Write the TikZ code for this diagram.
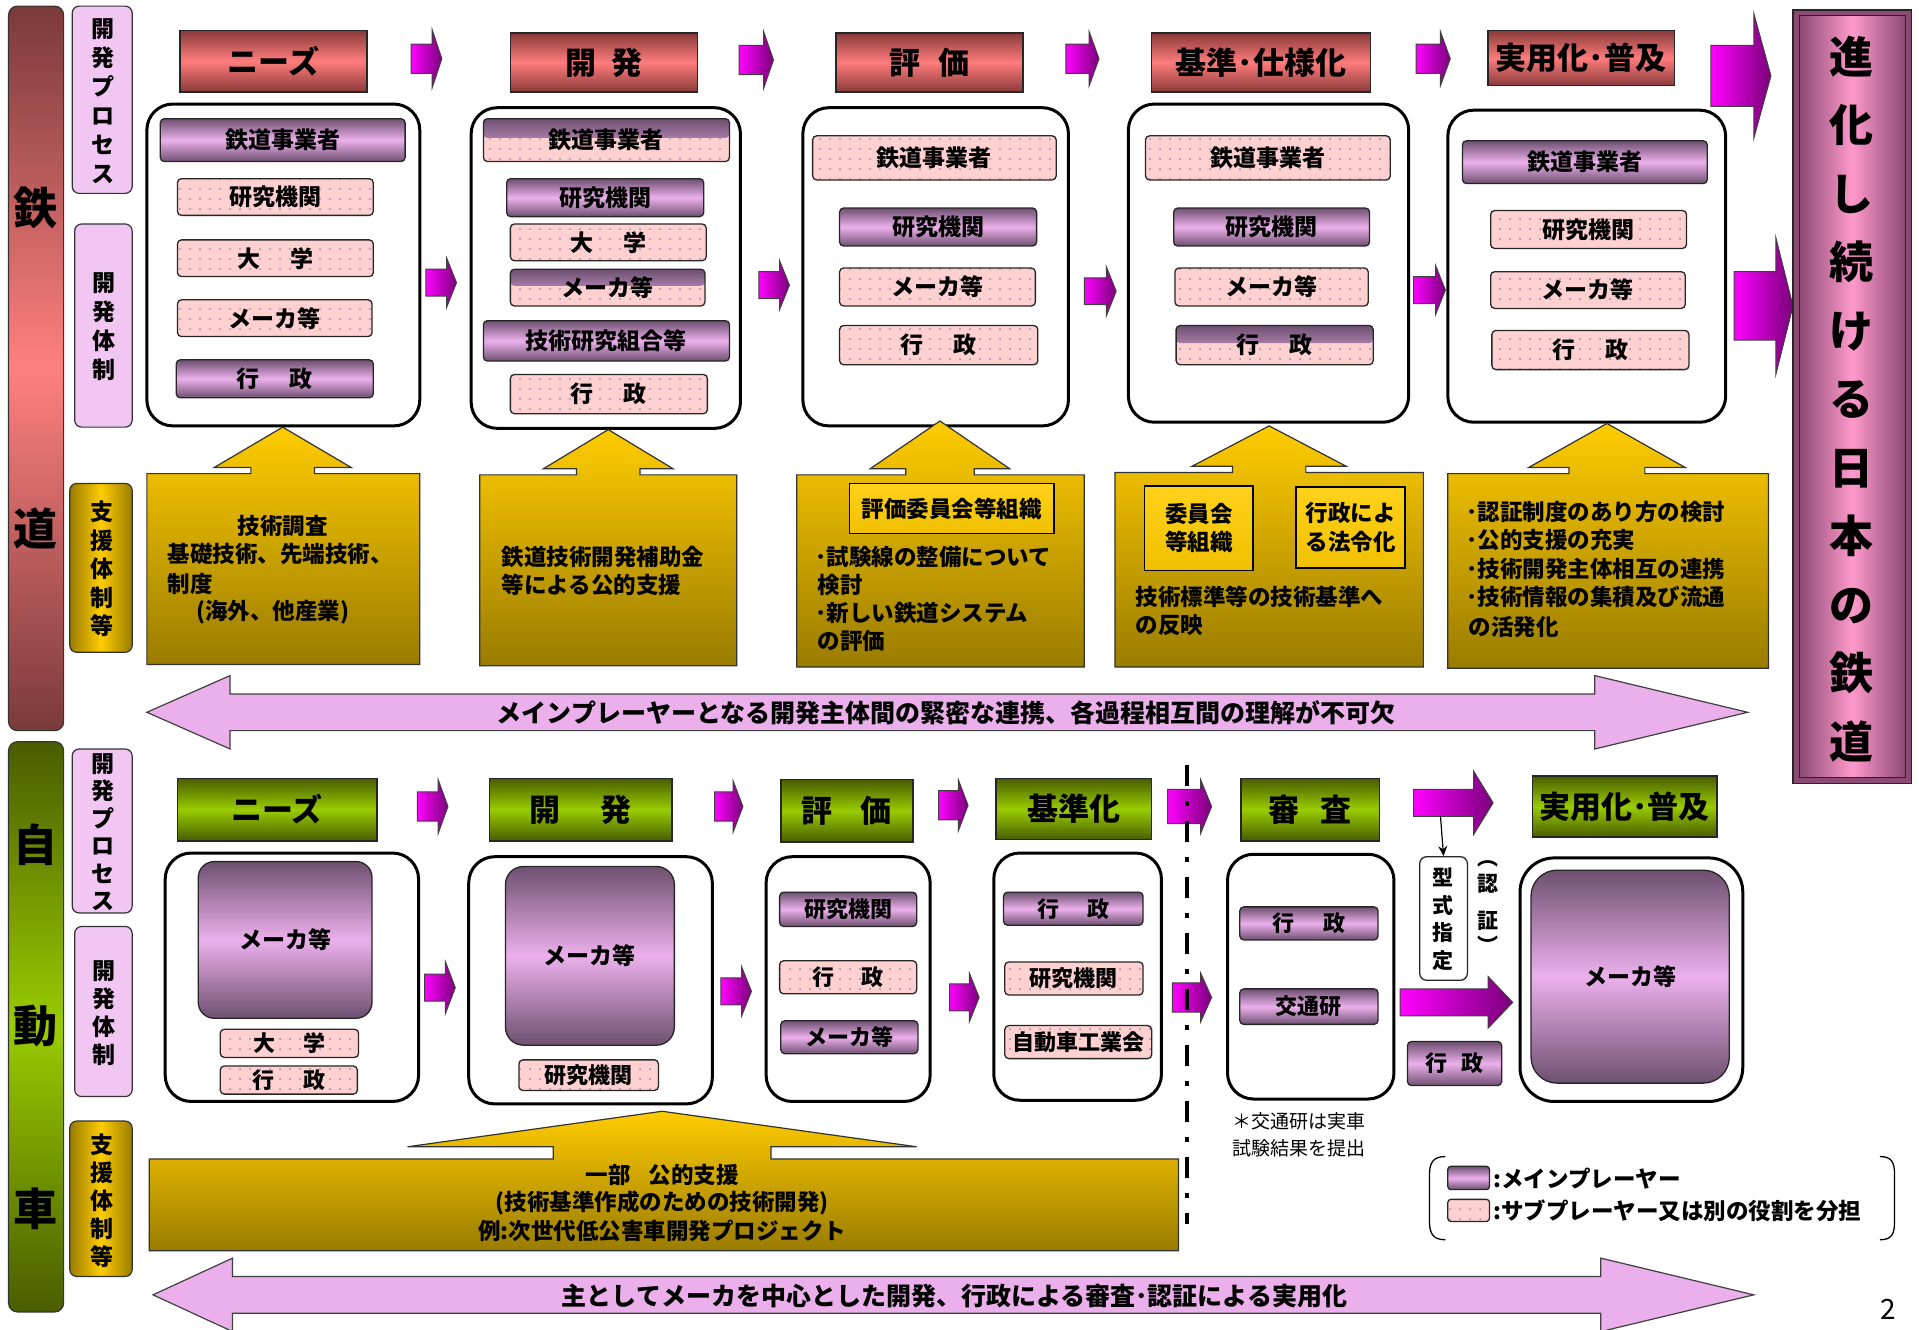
\documentclass[tikz,border=0pt]{standalone}
\usepackage{fontspec}
\setmainfont{Noto Sans CJK JP}[BoldFont={Noto Sans CJK JP Black}]
\usetikzlibrary{calc,patterns.meta,arrows.meta}
\definecolor{mdark}{HTML}{6E5070}
\definecolor{mlight}{HTML}{ECB0EC}
\definecolor{subpink}{HTML}{FFD0D0}
\definecolor{dotc}{HTML}{8080B0}
\definecolor{rdark}{HTML}{8A3A3A}
\definecolor{rlight}{HTML}{FF7C7C}
\definecolor{gdark}{HTML}{4A5C00}
\definecolor{glight}{HTML}{99CC00}
\definecolor{ytop}{HTML}{FFCC00}
\definecolor{ybot}{HTML}{9A7C00}
\definecolor{magl}{HTML}{FF00FF}
\definecolor{magr}{HTML}{7A007A}
\definecolor{dpink}{HTML}{EBB0EB}
\definecolor{lpink}{HTML}{F2C6F2}
\definecolor{bdark}{HTML}{7A3A3A}
\definecolor{blight}{HTML}{FF8080}
\definecolor{shdark}{HTML}{8A4A72}
\definecolor{shlight}{HTML}{FF99CC}
\definecolor{iyel}{HTML}{FFD21A}
\newcommand\fT{\fontsize{31}{36}\selectfont\bfseries}
\newcommand\fI{\fontsize{23}{28}\selectfont\bfseries}
\newcommand\fB{\fontsize{22}{26}\selectfont\bfseries}
\newcommand\fS{\fontsize{22.5}{28.5}\selectfont\bfseries}
\newcommand\fA{\fontsize{25}{30}\selectfont\bfseries}
\newcommand\fN{\fontsize{19}{27}\selectfont\mdseries}
\newcommand\bx[7]{\node[#2,minimum width={(#5-#3)*1.2238pt},minimum height={(#6-#4)*1.2238pt},inner sep=0pt] (#1) at ({(#3+#5)/2},{(#4+#6)/2}) {#7};}
\newcommand\marr[6]{\shade[left color=magl,right color=magr,draw=black!75,line width=1pt] (#1,{#3-#4}) -- ({#2-#6},{#3-#4}) -- ({#2-#6},{#3-#5}) -- (#2,#3) -- ({#2-#6},{#3+#5}) -- ({#2-#6},{#3+#4}) -- (#1,{#3+#4}) -- cycle;}
\newcommand\ycall[9]{\shade[top color=ytop,bottom color=ybot,draw=black!80,line width=1.2pt] (#1,#3) -- ({#5-#8},#3) -- ({#5-#8},{#3-#9}) -- ({#5-#7},{#3-#9}) -- (#5,#6) -- ({#5+#7},{#3-#9}) -- ({#5+#8},{#3-#9}) -- ({#5+#8},#3) -- (#2,#3) -- (#2,#4) -- (#1,#4) -- cycle;}
\newcommand\dbl[7]{\filldraw[fill=dpink,draw=black!75,line width=1.2pt] (#1,#5) -- (#2,{#5-#7}) -- (#2,{#5-#6}) -- (#3,{#5-#6}) -- (#3,{#5-#7}) -- (#4,#5) -- (#3,{#5+#7}) -- (#3,{#5+#6}) -- (#2,{#5+#6}) -- (#2,{#5+#7}) -- cycle;}
\tikzset{
  wbox/.style={draw=black,line width=3pt,rounded corners=26pt,fill=white},
  itembase/.style={draw=black!85,line width=1.3pt,rounded corners=4pt,font=\fI,text=black},
  mainp/.style={itembase,top color=mdark,bottom color=mdark,middle color=mlight},
  subp/.style={itembase,preaction={fill=subpink},pattern={Dots[distance=10pt,radius=0.9pt]},pattern color=dotc},
  mixp/.style={subp,path picture={\shade[top color=mdark,bottom color=mlight] (path picture bounding box.north west) rectangle ($(path picture bounding box.north east)!0.45!(path picture bounding box.south east)$);}},
  ttlr/.style={draw=black!85,line width=1.5pt,top color=rdark,bottom color=rdark,middle color=rlight,font=\fT},
  ttlg/.style={draw=black!85,line width=1.5pt,top color=gdark,bottom color=gdark,middle color=glight,font=\fT},
  lbl/.style={draw=black!80,line width=1.2pt,rounded corners=7pt,fill=lpink},
  ylbl/.style={draw=black!80,line width=1.2pt,rounded corners=7pt,left color=ybot,right color=ybot,middle color=ytop},
  vtxt/.style={align=center,inner sep=0pt,font=\fontsize{23}{#1}\selectfont\bfseries},
  ibox/.style={draw=black,line width=1.5pt,top color=iyel,bottom color=ytop!85!ybot,font=\fS,align=center},
  stxt/.style={inner sep=0pt,font=\fS},
}
\begin{document}
\begin{tikzpicture}[x=1.2238pt,y=-1.2238pt]
\useasboundingbox (0,0) rectangle (1568,1086);
% ---------------- left bars ----------------
\bx{barR}{draw=black!80,line width=1.2pt,rounded corners=9pt,top color=bdark,bottom color=bdark,middle color=blight}{7}{5}{52}{597}{}
\node[font=\fontsize{44}{44}\selectfont\bfseries] (barR1) at (29,170) {鉄};
\node[font=\fontsize{44}{44}\selectfont\bfseries] (barR2) at (29,432) {道};
\bx{barG}{draw=black!80,line width=1.2pt,rounded corners=9pt,top color=gdark,bottom color=gdark,middle color=glight}{7}{606}{52}{1072}{}
\node[font=\fontsize{44}{44}\selectfont\bfseries] (barG1) at (29,690) {自};
\node[font=\fontsize{44}{44}\selectfont\bfseries] (barG2) at (29,838) {動};
\node[font=\fontsize{44}{44}\selectfont\bfseries] (barG3) at (29,988) {車};
% labels
\bx{l1}{lbl}{59}{5}{108}{158}{}
\node[vtxt=29pt] (l1t) at (84,83) {開\\発\\プ\\ロ\\セ\\ス};
\bx{l2}{lbl}{61}{183}{108}{349}{}
\node[vtxt=29pt] (l2t) at (85,267) {開\\発\\体\\制};
\bx{l3}{ylbl}{57}{395}{108}{533}{}
\node[vtxt=28.5pt] (l3t) at (83,465) {支\\援\\体\\制\\等};
\bx{l4}{lbl}{59}{612}{108}{746}{}
\node[vtxt=27.5pt] (l4t) at (84,680) {開\\発\\プ\\ロ\\セ\\ス};
\bx{l5}{lbl}{61}{757}{108}{896}{}
\node[vtxt=28pt] (l5t) at (85,828) {開\\発\\体\\制};
\bx{l6}{ylbl}{57}{916}{108}{1043}{}
\node[vtxt=28pt] (l6t) at (83,981) {支\\援\\体\\制\\等};
% ---------------- top titles ----------------
\bx{t1}{ttlr}{147}{25}{300}{75}{ニーズ}
\bx{t2}{ttlr}{417}{27}{570}{75}{開\hspace{0.5em}発}
\bx{t3}{ttlr}{683}{27}{836}{75}{評\hspace{0.6em}価}
\bx{t4}{ttlr}{941}{27}{1120}{75}{基準･仕様化}
\bx{t5}{ttlr}{1216}{25}{1368}{70}{実用化･普及}
\marr{336}{361}{48}{12}{24}{8}
\marr{604}{632}{49}{12}{23}{8}
\marr{871}{898}{48}{12}{22}{8}
\marr{1157}{1185}{48}{12}{22}{8}
\marr{1398}{1447}{62}{25}{51}{14}
\marr{1417}{1465}{250}{28}{56}{14}
% evolution box
\bx{evo}{draw=black!85,line width=1.5pt,fill=shdark}{1465}{8}{1562}{640}{}
\bx{evoin}{draw=black!85,line width=1pt,left color=shdark,right color=shdark,middle color=shlight}{1470}{13}{1557}{635}{}
\node[align=center,inner sep=0pt,font=\fontsize{44}{68.5}\selectfont\bfseries] (evot) at (1513,326) {進\\化\\し\\続\\け\\る\\日\\本\\の\\鉄\\道};
% ---------------- top boxes ----------------
\bx{W1}{wbox}{120}{85}{343}{348}{}
\bx{W2}{wbox}{385}{88}{605}{350}{}
\bx{W3}{wbox}{656}{88}{873}{348}{}
\bx{W4}{wbox}{922}{85}{1151}{345}{}
\bx{W5}{wbox}{1183}{90}{1410}{345}{}
\bx{a1}{mainp}{131}{97}{331}{132}{鉄道事業者}
\bx{a2}{subp}{145}{146}{305}{176}{研究機関}
\bx{a3}{subp}{145}{196}{305}{226}{大\hspace{1.3em}学}
\bx{a4}{subp}{145}{245}{304}{275}{メーカ等}
\bx{a5}{mainp}{144}{294}{305}{325}{行\hspace{1.3em}政}
\bx{b1}{mixp}{395}{97}{596}{132}{鉄道事業者}
\bx{b2}{mainp}{414}{146}{575}{177}{研究機関}
\bx{b3}{subp}{417}{183}{577}{213}{大\hspace{1.3em}学}
\bx{b4}{mixp}{417}{220}{576}{250}{メーカ等}
\bx{b5}{mainp}{395}{262}{596}{295}{技術研究組合等}
\bx{b6}{subp}{417}{306}{578}{338}{行\hspace{1.3em}政}
\bx{c1}{subp}{664}{111}{863}{147}{鉄道事業者}
\bx{c2}{mainp}{686}{170}{847}{201}{研究機関}
\bx{c3}{subp}{686}{219}{846}{250}{メーカ等}
\bx{c4}{subp}{686}{266}{848}{298}{行\hspace{1.3em}政}
\bx{d1}{subp}{936}{111}{1136}{147}{鉄道事業者}
\bx{d2}{mainp}{959}{170}{1119}{201}{研究機関}
\bx{d3}{subp}{960}{219}{1118}{250}{メーカ等}
\bx{d4}{mixp}{961}{266}{1122}{298}{行\hspace{1.3em}政}
\bx{e1}{mainp}{1195}{115}{1395}{150}{鉄道事業者}
\bx{e2}{subp}{1218}{172}{1378}{203}{研究機関}
\bx{e3}{subp}{1218}{222}{1377}{252}{メーカ等}
\bx{e4}{subp}{1219}{270}{1380}{302}{行\hspace{1.3em}政}
\marr{348}{373}{231}{11}{20}{8}
\marr{620}{645}{233}{11}{20}{8}
\marr{886}{912}{238}{11}{20}{8}
\marr{1155}{1181}{237}{11}{20}{8}
% ---------------- support callouts (rail) ----------------
\ycall{120}{343}{387}{543}{231}{349}{56}{26}{5}
\ycall{392}{602}{388}{544}{497}{351}{53}{26}{5}
\ycall{651}{886}{388}{545}{768}{344}{57}{28}{5}
\ycall{911}{1163}{386}{545}{1037}{348}{63}{30}{5}
\ycall{1183}{1445}{387}{546}{1313}{346}{64}{31}{5}
\node[stxt] (s1a) at (231,430) {技術調査};
\node[stxt,anchor=west] (s1b) at (137,453) {基礎技術、先端技術、};
\node[stxt,anchor=west] (s1c) at (137,477) {制度};
\node[stxt,anchor=west] (s1d) at (160,500) {(海外、他産業)};
\node[stxt,anchor=west] (s2a) at (410,455) {鉄道技術開発補助金};
\node[stxt,anchor=west] (s2b) at (410,478) {等による公的支援};
\bx{s3box}{ibox}{694}{395}{861}{436}{評価委員会等組織}
\node[stxt,anchor=west] (s3a) at (666,455) {･試験線の整備について};
\node[stxt,anchor=west] (s3b) at (668,478) {検討};
\node[stxt,anchor=west] (s3c) at (666,501) {･新しい鉄道システム};
\node[stxt,anchor=west] (s3d) at (668,524) {の評価};
\bx{s4box1}{ibox}{935}{397}{1024}{466}{委員会\\等組織}
\bx{s4box2}{ibox}{1059}{398}{1148}{464}{行政によ\\る法令化}
\node[stxt,anchor=west] (s4a) at (928,488) {技術標準等の技術基準へ};
\node[stxt,anchor=west] (s4b) at (928,511) {の反映};
\node[stxt,anchor=west] (s5a) at (1198,418) {･認証制度のあり方の検討};
\node[stxt,anchor=west] (s5b) at (1198,441) {･公的支援の充実};
\node[stxt,anchor=west] (s5c) at (1198,465) {･技術開発主体相互の連携};
\node[stxt,anchor=west] (s5d) at (1198,488) {･技術情報の集積及び流通};
\node[stxt,anchor=west] (s5e) at (1200,512) {の活発化};
% double arrow top
\dbl{120}{188}{1303}{1428}{582}{15}{30}
\node[font=\fA] (dA) at (773,582) {メインプレーヤーとなる開発主体間の緊密な連携、各過程相互間の理解が不可欠};
% ---------------- bottom titles ----------------
\bx{g1}{ttlg}{145}{636}{308}{687}{ニーズ}
\bx{g2}{ttlg}{400}{636}{549}{687}{開\hspace{1.3em}発}
\bx{g3}{ttlg}{638}{637}{746}{688}{評\hspace{0.9em}価}
\bx{g4}{ttlg}{814}{636}{941}{686}{基準化}
\bx{g5}{ttlg}{1014}{636}{1127}{687}{審\hspace{0.7em}査}
\bx{g6}{ttlg}{1252}{634}{1403}{684}{実用化･普及}
\marr{341}{366}{659}{12}{22}{8}
\marr{584}{607}{659}{12}{21}{8}
\marr{767}{791}{658}{12}{21}{8}
\marr{954}{990}{659}{14}{22}{9}
\marr{1155}{1220}{656}{11}{26}{16}
% bottom boxes
\bx{B1}{wbox}{135}{697}{342}{900}{}
\bx{B2}{wbox}{383}{700}{582}{902}{}
\bx{B3}{wbox}{626}{700}{760}{900}{}
\bx{B4}{wbox}{812}{697}{949}{899}{}
\bx{B5}{wbox}{1003}{698}{1139}{898}{}
\bx{B6}{wbox,rounded corners=34pt}{1242}{701}{1424}{900}{}
\bx{f1}{mainp,rounded corners=16pt}{162}{704}{304}{832}{メーカ等}
\bx{f2}{subp,font=\fB}{180}{841}{293}{864}{大\hspace{1.3em}学}
\bx{f3}{subp,font=\fB}{180}{871}{292}{894}{行\hspace{1.3em}政}
\bx{h1}{mainp,rounded corners=18pt}{413}{708}{551}{854}{メーカ等}
\bx{h2}{subp,font=\fB}{424}{866}{538}{891}{研究機関}
\bx{i1}{mainp,font=\fB}{637}{729}{749}{757}{研究機関}
\bx{i2}{subp,font=\fB}{637}{785}{749}{812}{行\hspace{1.2em}政}
\bx{i3}{mainp,font=\fB}{638}{834}{750}{861}{メーカ等}
\bx{j1}{mainp,font=\fB}{820}{729}{934}{756}{行\hspace{1.3em}政}
\bx{j2}{subp,font=\fB}{821}{786}{934}{813}{研究機関}
\bx{j3}{subp,font=\fB}{821}{838}{941}{865}{自動車工業会}
\bx{k1}{mainp,font=\fB}{1013}{741}{1126}{768}{行\hspace{1.3em}政}
\bx{k2}{mainp,font=\fB}{1013}{808}{1126}{837}{交通研}
\node[font=\fN,anchor=west,inner sep=0pt] (note1) at (1007,916) {＊交通研は実車};
\node[font=\fN,anchor=west,inner sep=0pt] (note2) at (1007,938) {試験結果を提出};
\bx{kata}{draw=black!85,line width=1.3pt,rounded corners=7pt,fill=white}{1160}{700}{1199}{801}{}
\node[vtxt=27.5pt,font=\fontsize{21}{27.5}\selectfont\bfseries] (katat) at (1179,751) {型\\式\\指\\定};
\node[font=\fontsize{21}{21}\selectfont\bfseries,inner sep=0pt] (nin0) at (1216,706) {︵};
\node[font=\fontsize{21}{21}\selectfont\bfseries,inner sep=0pt] (nin1) at (1216,722) {認};
\node[font=\fontsize{21}{21}\selectfont\bfseries,inner sep=0pt] (nin2) at (1216,752) {証};
\node[font=\fontsize{21}{21}\selectfont\bfseries,inner sep=0pt] (nin3) at (1216,772) {︶};
\coordinate (kd) at (1177,667);
\draw[line width=1.2pt,-{Stealth[length=10pt,width=9pt]}] (kd) -- (kata.north);
\marr{1144}{1236}{819}{11}{21}{20}
\bx{k3}{mainp,font=\fB}{1150}{851}{1227}{887}{行\hspace{0.6em}政}
\bx{m1}{mainp,rounded corners=26pt}{1251}{711}{1413}{885}{メーカ等}
\marr{347}{372}{807}{11}{21}{8}
\marr{589}{614}{810}{11}{20}{8}
\marr{776}{800}{815}{11}{20}{8}
\marr{958}{990}{815}{12}{20}{9}
% dash-dot line
\coordinate (dd1) at (970,625);
\coordinate (dd2) at (970,1000);
\draw[line width=4.2pt,dash pattern=on 21pt off 15pt on 5pt off 15pt] (dd1) -- (dd2);
% bottom support callout
\ycall{122}{963}{947}{1022}{541}{908}{208}{89}{10}
\node[stxt] (s6a) at (541,960) {一部\hspace{0.8em}公的支援};
\node[stxt] (s6b) at (541,983) {(技術基準作成のための技術開発)};
\node[stxt] (s6c) at (541,1006) {例:次世代低公害車開発プロジェクト};
% double arrow bottom
\dbl{125}{190}{1308}{1433}{1058}{15}{30}
\node[font=\fA] (dB) at (780,1059) {主としてメーカを中心とした開発、行政による審査･認証による実用化};
% legend
\draw[line width=1.3pt] (1181,945) .. controls (1171,945) and (1168,950) .. (1168,960) -- (1168,998) .. controls (1168,1008) and (1171,1013) .. (1181,1013);
\draw[line width=1.3pt] (1536,945) .. controls (1546,945) and (1548,950) .. (1548,960) -- (1548,998) .. controls (1548,1008) and (1546,1013) .. (1536,1013);
\bx{lg1}{mainp,rounded corners=3pt}{1183}{953}{1217}{972}{}
\bx{lg2}{subp,rounded corners=3pt}{1183}{980}{1217}{998}{}
\node[stxt,anchor=west] (lt1) at (1220,963) {:メインプレーヤー};
\node[stxt,anchor=west] (lt2) at (1220,989) {:サブプレーヤー又は別の役割を分担};
\node[font=\fontsize{28}{30}\selectfont\mdseries,inner sep=0pt] (pg) at (1543,1070) {2};
\end{tikzpicture}
\end{document}
